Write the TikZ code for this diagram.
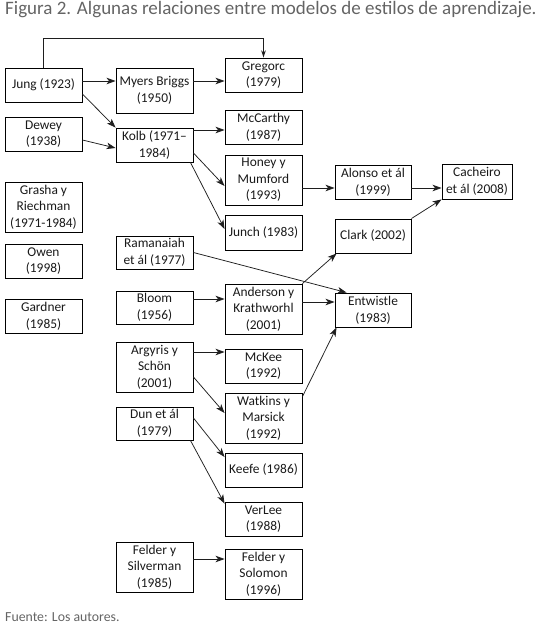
\documentclass[tikz,border=0pt]{standalone}
\usepackage{fontspec}
\setmainfont{Carlito}
\usetikzlibrary{arrows.meta,calc}
\definecolor{capgray}{RGB}{100,100,100}
\definecolor{linegray}{RGB}{30,30,30}
\tikzset{
  box/.style={draw=black, line width=0.9pt, rectangle, inner sep=0pt, align=center,
    minimum width=77pt, minimum height=34pt, font=\fontsize{13.4}{16.6}\selectfont, text=black!90},
  arr/.style={draw=linegray, line width=0.75pt, -{Stealth[length=9pt,width=6.5pt,inset=2.5pt]}},
  caption/.style={anchor=west, inner sep=0pt, text=capgray}
}
\begin{document}
\begin{tikzpicture}[x=1pt,y=-1pt]
\useasboundingbox (0,0) rectangle (554,635);
\node[caption, font=\fontsize{19}{22}\selectfont] (title) at (5,10) {Figura 2. Algunas relaciones entre modelos de estilos de aprendizaje.};
\node[caption, font=\fontsize{13.8}{16}\selectfont] (source) at (5,617) {Fuente: Los autores.};

% column 1
\node[box] (jung) at (43.5,85) {Jung (1923)};
\node[box] (dewey) at (43.5,134) {Dewey\\(1938)};
\node[box, minimum height=50pt] (grasha) at (43.5,207) {Grasha y\\Riechman\\(1971-1984)};
\node[box] (owen) at (43.5,261) {Owen\\(1998)};
\node[box] (gardner) at (43.5,316) {Gardner\\(1985)};
% column 2
\node[box, minimum height=45pt] (myers) at (154.5,90.5) {Myers Briggs\\(1950)};
\node[box] (kolb) at (154.5,145) {Kolb (1971–\\1984)};
\node[box, minimum height=33pt] (ramanaiah) at (154.5,252.5) {Ramanaiah\\et ál (1977)};
\node[box, minimum height=33pt] (bloom) at (154.5,307.5) {Bloom\\(1956)};
\node[box, minimum height=50pt] (argyris) at (154.5,367) {Argyris y\\Schön\\(2001)};
\node[box, minimum height=33pt] (dun) at (154.5,423.5) {Dun et ál\\(1979)};
\node[box, minimum height=50pt] (fsilver) at (154.5,567) {Felder y\\Silverman\\(1985)};
% column 3
\node[box] (gregorc) at (263.5,75) {Gregorc\\(1979)};
\node[box] (mccarthy) at (263.5,127) {McCarthy\\(1987)};
\node[box, minimum height=50pt] (honey) at (263.5,180) {Honey y\\Mumford\\(1993)};
\node[box, minimum height=35pt] (junch) at (263.5,232.5) {Junch (1983)};
\node[box, minimum height=50pt] (anderson) at (263.5,309) {Anderson y\\Krathworhl\\(2001)};
\node[box] (mckee) at (263.5,366) {McKee\\(1992)};
\node[box, minimum height=50pt] (watkins) at (263.5,418) {Watkins y\\Marsick\\(1992)};
\node[box] (keefe) at (263.5,470) {Keefe (1986)};
\node[box] (verlee) at (263.5,519) {VerLee\\(1988)};
\node[box, minimum height=50pt] (fsolomon) at (263.5,574) {Felder y\\Solomon\\(1996)};
% column 4
\node[box, minimum width=76pt] (alonso) at (373,182) {Alonso et ál\\(1999)};
\node[box, minimum width=76pt] (clark) at (373,236) {Clark (2002)};
\node[box, minimum width=76pt] (entwistle) at (373,310) {Entwistle\\(1983)};
% column 5
\node[box, minimum width=70pt, minimum height=35pt] (cacheiro) at (477,181.5) {Cacheiro\\et ál (2008)};

% connectors
\draw[arr, line width=1.3pt, -{Stealth[length=7pt,width=4.5pt,inset=2pt]}] (jung.north) -- ++(0,-29) -| (gregorc.north);
\draw[arr] ([yshift=4pt]jung.east) -- ([yshift=4pt]jung.east -| myers.west);
\draw[arr] ([yshift=9.5pt]myers.east) -- ([yshift=9.5pt]myers.east -| gregorc.west);
\draw[arr] ([yshift=-9pt]jung.east) -- (kolb.north west);
\draw[arr] ([yshift=-6pt]dewey.east) -- ([yshift=-3pt]kolb.west);
\draw[arr] ([yshift=15pt]kolb.east) -- ([yshift=15pt]kolb.east -| mccarthy.west);
\draw[arr] ([yshift=-8pt]kolb.east) -- ([yshift=-6pt]honey.west);
\draw[arr] ([xshift=-3pt]kolb.south east) -- ([yshift=3.5pt]junch.west);
\draw[arr] ([yshift=-8pt]honey.east) -- ([yshift=-8pt]honey.east -| alonso.west);
\draw[arr] ([yshift=-6pt]alonso.east) -- ([yshift=-6pt]alonso.east -| cacheiro.west);
\draw[arr] (clark.north east) -- (cacheiro.south west);
\draw[arr] (ramanaiah.east) -- ([xshift=12pt]entwistle.north west);
\draw[arr] ([yshift=8.5pt]bloom.east) -- ([yshift=8.5pt]bloom.east -| anderson.west);
\draw[arr] (anderson.north east) -- ([xshift=2pt]clark.south west);
\draw[arr] ([yshift=7pt]anderson.east) -- ([yshift=7pt]anderson.east -| entwistle.west);
\draw[arr] ([yshift=-4pt]watkins.north east) -- ([xshift=2pt]entwistle.south west);
\draw[arr] ([yshift=15pt]argyris.east) -- ([yshift=14pt]mckee.west);
\draw[arr] ([yshift=-10pt]argyris.east) -- ([yshift=5pt]watkins.west);
\draw[arr] ([yshift=5.5pt]dun.east) -- ([yshift=13pt]keefe.west);
\draw[arr] ([xshift=-3pt]dun.south east) -- ([yshift=-2pt]verlee.north west);
\draw[arr] ([yshift=8pt]fsilver.east) -- ([yshift=8pt]fsilver.east -| fsolomon.west);
\end{tikzpicture}
\end{document}
